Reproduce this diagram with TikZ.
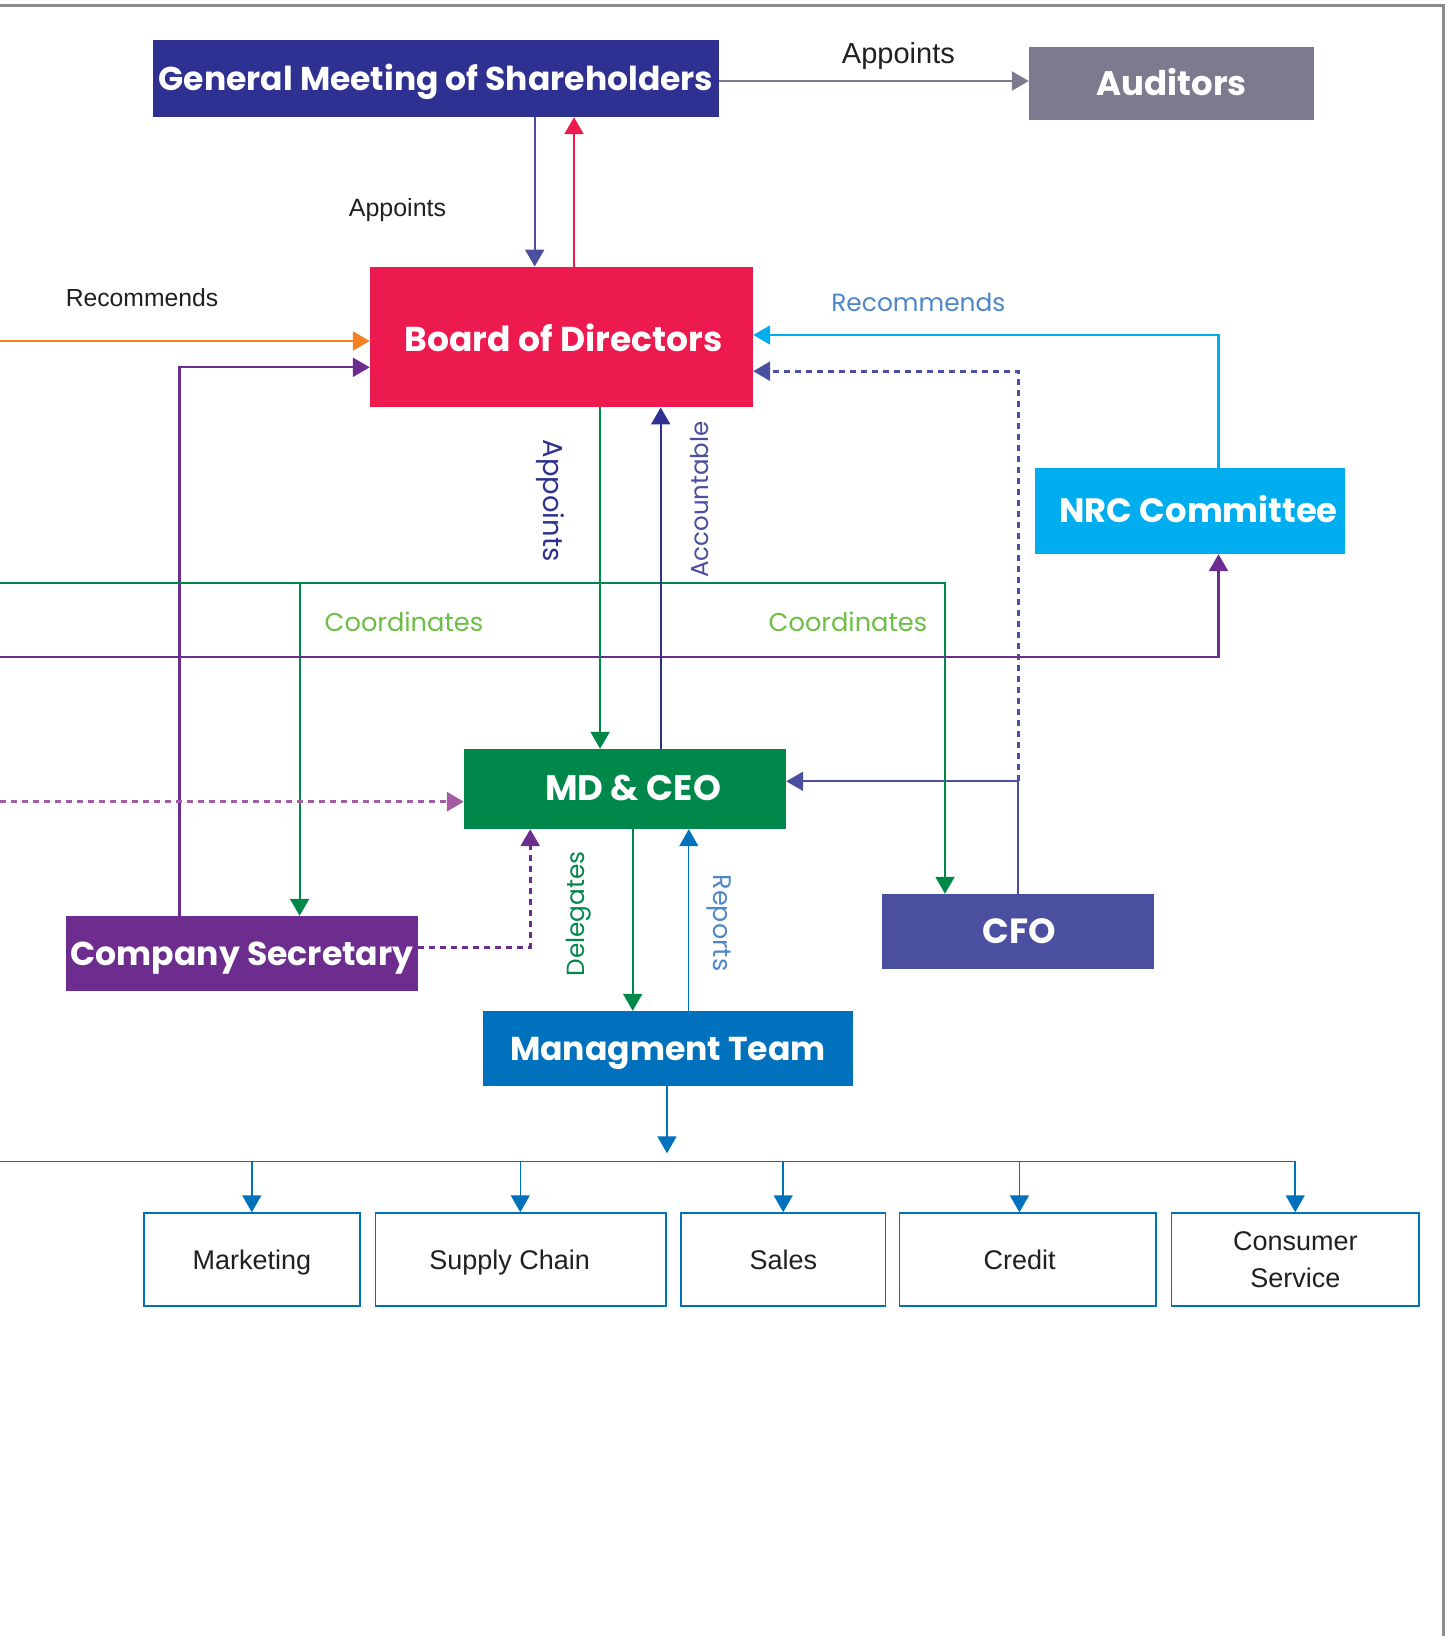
\documentclass[tikz,border=0pt]{standalone}
\usepackage{fontspec}
\setmainfont{Poppins}
\newfontfamily\helv{Liberation Sans}
\usetikzlibrary{arrows.meta}
\definecolor{gmsc}{HTML}{2E3192}
\definecolor{audc}{HTML}{7D7A8F}
\definecolor{boardc}{HTML}{ED1A4F}
\definecolor{nrcc}{HTML}{00AEEF}
\definecolor{mdc}{HTML}{00874A}
\definecolor{cfoc}{HTML}{4A4FA0}
\definecolor{csc}{HTML}{6D2D8F}
\definecolor{mtc}{HTML}{0071BC}
\definecolor{orangec}{HTML}{F58220}
\definecolor{coordc}{HTML}{6CBE45}
\definecolor{recc}{HTML}{4F86C6}
\definecolor{pinkc}{HTML}{A65BA5}
\definecolor{framec}{HTML}{8C8C8C}
\definecolor{txtc}{HTML}{231F20}
\begin{document}
\begin{tikzpicture}[x=1pt,y=-1pt,
  box/.style 2 args={rectangle,inner sep=0pt,text=white,font=\bfseries\fontsize{#1}{#1}\selectfont,text height=#2pt,text depth=0pt},
  deptbase/.style={rectangle,draw=mtc,line width=1.5pt,inner sep=0pt,minimum height=93pt,align=center,text=txtc,font=\helv\fontsize{27}{36.6}\selectfont},
  dept/.style={deptbase,text height=19.3pt,text depth=0pt},
  lab/.style={inner sep=0pt,text=txtc,font=\helv\fontsize{#1}{#1}\selectfont},
  mlab/.style={inner sep=0pt,font=\fontsize{#1}{#1}\selectfont},
  tip/.style={-{Triangle[length=17pt,width=19pt]}},
  conn/.style={tip,line width=2.2pt},
  dotc/.style={tip,line width=3pt,dash pattern=on 6pt off 5pt},
  bus/.style={line width=1.5pt,draw=mtc}
]
\useasboundingbox (0,0) rectangle (1446,1636);
\fill[white] (0,0) rectangle (1446,1636);
% frame
\draw[framec,line width=2.5pt] (0,5.7) -- (1443.7,5.7) -- (1443.7,1636);

% boxes
\node[box={33}{23.3},fill=gmsc,minimum width=566pt,minimum height=77pt] (gms) at (436,78.5) {General Meeting of Shareholders};
\node[box={34}{23.8},fill=audc,minimum width=285pt,minimum height=73pt] (aud) at (1171.5,83.5) {Auditors};
\node[box={34.5}{28.1},fill=boardc,minimum width=383pt,minimum height=140.5pt] (board) at (561.5,337) {\hspace*{4pt}Board of Directors};
\node[box={33.8}{23.6},fill=nrcc,minimum width=310pt,minimum height=86pt] (nrc) at (1190,511) {\hspace*{17pt}NRC Committee};
\node[box={35.5}{22.8},fill=mdc,minimum width=322pt,minimum height=80pt] (md) at (625,789) {\hspace*{16pt}MD \& CEO};
\node[box={35}{24.5},fill=cfoc,minimum width=272pt,minimum height=75.5pt] (cfo) at (1018,931.7) {\hspace*{3pt}CFO};
\node[box={33.1}{23.2},fill=csc,minimum width=352pt,minimum height=75pt] (cs) at (242,953.5) {Company Secretary};
\node[box={33.1}{23.2},fill=mtc,minimum width=370pt,minimum height=75pt] (mt) at (668,1048.5) {Managment Team};

% departments
\node[dept,minimum width=216pt] (mkt) at (252,1259.5) {Marketing};
\node[dept,minimum width=290.5pt] (sc) at (520.75,1259.5) {Supply Chain\hspace*{22pt}};
\node[dept,minimum width=204.6pt] (sales) at (783.3,1259.5) {Sales};
\node[dept,minimum width=256.6pt] (credit) at (1027.7,1259.5) {Credit\hspace*{16pt}};
\node[deptbase,minimum width=247.4pt] (cons) at (1295.3,1259.5) {Consumer\\Service};

% guide coordinates
\coordinate (xga) at (534.7,0);
\coordinate (xbg) at (574,0);
\coordinate (xcsu) at (179.4,0);
\coordinate (ypb) at (0,367.3);
\coordinate (orL) at (0,341);
\coordinate (ycy) at (0,335);
\coordinate (xnrc) at (1218.5,0);
\coordinate (ydot) at (0,371.2);
\coordinate (xcfo) at (1018,0);
\coordinate (ycfo) at (0,781.3);
\coordinate (coL) at (0,583);
\coordinate (xcor) at (945,0);
\coordinate (xcol) at (299.6,0);
\coordinate (nrL) at (0,657.3);
\coordinate (xbm) at (600.1,0);
\coordinate (xmb) at (660.7,0);
\coordinate (pkL) at (0,801.7);
\coordinate (xcsd) at (530.2,0);
\coordinate (ycsd) at (0,947);
\coordinate (xdel) at (632.7,0);
\coordinate (xrep) at (688.8,0);
\coordinate (mtTip) at (667,1153.3);
\coordinate (busL) at (0,1161.3);
\coordinate (busR) at (1295.2,1161.3);

% top connectors
\draw[conn,audc,line width=2.6pt] (gms.east |- 0,81) -- (aud.west |- 0,81);
\draw[conn,cfoc] (gms.south -| xga) -- (board.north -| xga);
\draw[conn,boardc] (board.north -| xbg) -- (gms.south -| xbg);
\draw[conn,orangec] (orL) -- (board.west |- orL);
\draw[conn,csc] (cs.north -| xcsu) |- (board.west |- ypb);
\draw[conn,nrcc] (nrc.north -| xnrc) |- (board.east |- ycy);
\draw[dotc,cfoc] (xcfo |- ycfo) |- (board.east |- ydot);
\draw[conn,cfoc] (cfo.north -| xcfo) |- (md.east |- ycfo);
% coordinates lines
\draw[conn,mdc] (coL) -| (cfo.north -| xcor);
\draw[conn,mdc] (xcol |- coL) -- (cs.north -| xcol);
\draw[conn,csc] (nrL) -| (nrc.south -| xnrc);
% board <-> md
\draw[conn,mdc] (board.south -| xbm) -- (md.north -| xbm);
\draw[conn,gmsc] (md.north -| xmb) -- (board.south -| xmb);
% pink dotted
\draw[dotc,pinkc] (pkL) -- (md.west |- pkL);
\draw[dotc,csc] (cs.east |- ycsd) -| (md.south -| xcsd);
% md <-> mt
\draw[conn,mdc] (md.south -| xdel) -- (mt.north -| xdel);
\draw[tip,mtc,line width=1.2pt] (mt.north -| xrep) -- (md.south -| xrep);
% mt to departments
\draw[tip,bus] (mt.south -| mtTip) -- (mtTip);
\draw[bus] (busL) -- (busR);
\draw[tip,bus] (251.8,1161.3) -- (mkt.north -| 251.8,0);
\draw[tip,bus] (520.3,1161.3) -- (sc.north -| 520.3,0);
\draw[tip,bus] (783.2,1161.3) -- (sales.north -| 783.2,0);
\draw[tip,bus] (1019.4,1161.3) -- (credit.north -| 1019.4,0);
\draw[tip,bus] (busR) -- (cons.north -| busR);

% labels
\node[lab=29] (l1) at (898.4,55.5) {Appoints};
\node[lab=25] (l2) at (397.5,210) {Appoints};
\node[lab=24.7] (l3) at (142,297.7) {Recommends};
\node[mlab=24.9,text=recc] (l4) at (918.4,302) {Recommends};
\node[mlab=25.7,text=coordc] (l5) at (404,622) {Coordinates};
\node[mlab=25.7,text=coordc] (l6) at (848,622) {Coordinates};
\node[mlab=27.4,text=gmsc,rotate=-90] (l7) at (550,500.5) {Appoints};
\node[mlab=24.5,text=cfoc,rotate=90] (l8) at (700,499.5) {Accountable};
\node[mlab=24.8,text=mdc,rotate=90] (l9) at (578.4,913.8) {Delegates};
\node[mlab=25.4,text=recc,rotate=-90] (l10) at (719,923) {Reports};
\end{tikzpicture}
\end{document}
